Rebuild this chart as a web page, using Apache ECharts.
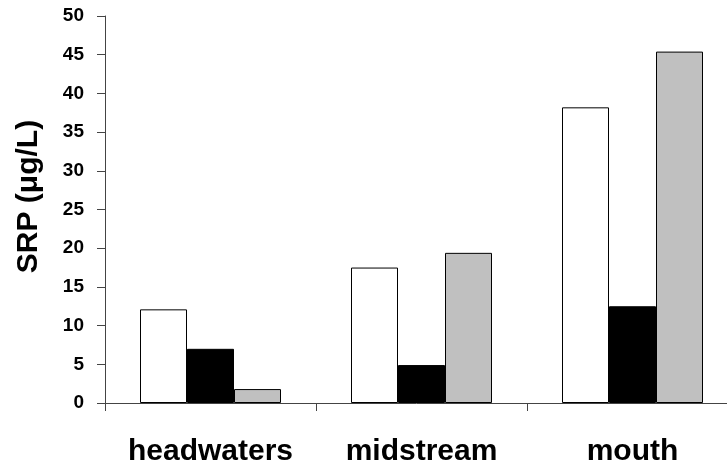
<!DOCTYPE html>
<html>
<head>
<meta charset="utf-8">
<script src="https://cdn.jsdelivr.net/npm/echarts@6/dist/echarts.min.js"></script>
<style>
  html, body { margin: 0; padding: 0; background: #fff; }
  #main { width: 727px; height: 469px; }
</style>
</head>
<body>
<div id="main"></div>
<script>
  "use strict";

  var categories = ["headwaters", "midstream", "mouth"];
  var whiteValues = [12.1, 17.5, 38.2];
  var blackValues = [7.0, 4.9, 12.5];
  var grayValues = [1.8, 19.4, 45.4];
  var yTicks = { min: 0, max: 50, interval: 5 };

  var chartDom = document.getElementById("main");
  var myChart = echarts.init(chartDom);
  var font = "'Liberation Sans', Arial, sans-serif";

  function barSeries(name, data, color) {
    return {
      name: name,
      type: "bar",
      data: data,
      barWidth: 47,
      barGap: "0%",
      itemStyle: {
        color: color,
        borderColor: "#000",
        borderWidth: 1,
      },
    };
  }

  var option = {
    animation: false,
    backgroundColor: "#fff",
    grid: {
      left: 105,
      top: 16,
      width: 633,
      height: 387,
      containLabel: false,
      outerBoundsMode: "none",
    },
    xAxis: {
      type: "category",
      data: categories,
      axisLine: { lineStyle: { color: "#444", width: 1 } },
      axisTick: { show: true, interval: 0, length: 8, alignWithLabel: false, lineStyle: { color: "#444" } },
      axisLabel: {
        interval: 0,
        margin: 34,
        color: "#000",
        fontFamily: font,
        fontWeight: "bold",
        fontSize: 30,
      },
      splitLine: { show: false },
    },
    yAxis: {
      type: "value",
      min: yTicks.min,
      max: yTicks.max,
      interval: yTicks.interval,
      name: "SRP (\u03BCg/L)",
      nameLocation: "middle",
      nameGap: 61,
      nameTextStyle: {
        color: "#000",
        fontFamily: font,
        fontWeight: "bold",
        fontSize: 30,
        padding: [0, 0, 0, 26],
      },
      axisLine: { show: true, lineStyle: { color: "#444", width: 1 } },
      axisTick: { show: true, length: 8, lineStyle: { color: "#444" } },
      axisLabel: {
        margin: 21,
        color: "#000",
        fontFamily: font,
        fontWeight: "bold",
        fontSize: 19,
      },
      splitLine: { show: false },
    },
    series: [
      barSeries("white", whiteValues, "#ffffff"),
      barSeries("black", blackValues, "#000000"),
      barSeries("gray", grayValues, "#c0c0c0"),
    ],
  };

  option && myChart.setOption(option);
</script>
</body>
</html>
